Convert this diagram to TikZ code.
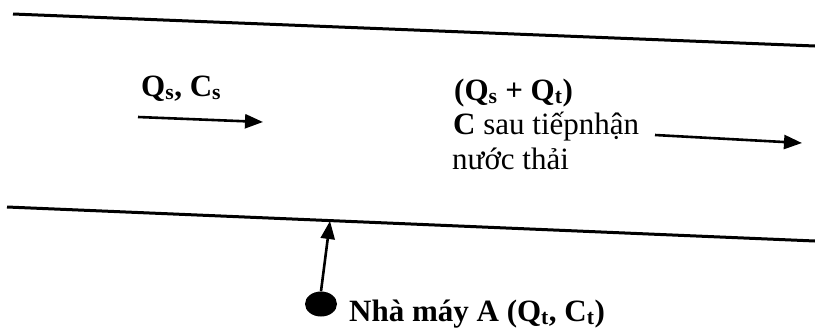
\documentclass[tikz,border=0pt]{standalone}
\usepackage{fontspec}
\setmainfont{Liberation Serif}
\usetikzlibrary{arrows.meta,shapes.geometric}
\begin{document}
\begin{tikzpicture}[x=1pt,y=-1pt,
  bank/.style={line width=3pt},
  flow/.style={line width=2.6pt,-{Triangle[length=18pt,width=14pt]}},
  lbl/.style={inner sep=0pt,anchor=base west,font=\fontsize{31}{35}\selectfont,align=left,text depth=0pt}]
\useasboundingbox (0,0) rectangle (815,333);
% river banks
\coordinate (t1) at (13,14); \coordinate (t2) at (815,46);
\coordinate (b1) at (7,207); \coordinate (b2) at (815,241);
\draw[bank] (t1) -- (t2);
\draw[bank] (b1) -- (b2);
% upstream
\node[lbl] (up) at (141,96) {\textbf{Q\textsubscript{s}, C\textsubscript{s}}};
\coordinate (a1s) at (138,117); \coordinate (a1e) at (263,122);
\draw[flow] (a1s) -- (a1e);
% downstream
\node[lbl] (dn) at (454,100) {\textbf{(Q\textsubscript{s} + Q\textsubscript{t})}};
\node[lbl] (dn2) at (453,134) {\textbf{C} sau tiếpnhận};
\node[lbl] (dn3) at (452,169) {nước thải};
\coordinate (a2s) at (655,135); \coordinate (a2e) at (802,143);
\draw[flow] (a2s) -- (a2e);
% factory
\node[ellipse,fill=black,minimum width=32pt,minimum height=25pt,inner sep=0pt] (dot) at (321,304) {};
\node[lbl] (fac) at (349,321) {\textbf{Nhà máy A (Q\textsubscript{t}, C\textsubscript{t})}};
\coordinate (intake) at (330,221);
\draw[flow] (dot.north) -- (intake);
\end{tikzpicture}
\end{document}
